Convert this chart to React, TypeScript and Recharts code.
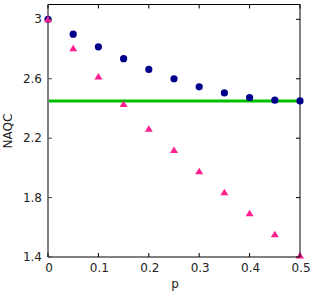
import React from "react";
import { ScatterChart, Scatter, XAxis, YAxis, ReferenceLine } from "recharts";

const pValues = [0, 0.05, 0.1, 0.15, 0.2, 0.25, 0.3, 0.35, 0.4, 0.45, 0.5];
const circleSeries = [3.0, 2.9, 2.815, 2.735, 2.663, 2.6, 2.546, 2.505, 2.474, 2.456, 2.451];
const triangleSeries = [3.0, 2.806, 2.615, 2.43, 2.264, 2.12, 1.978, 1.836, 1.695, 1.553, 1.41];
const thresholdValue = 2.45;
const xTicks = [0, 0.1, 0.2, 0.3, 0.4, 0.5];
const yTicks = [1.4, 1.8, 2.2, 2.6, 3];

const circleData = pValues.map((p, i) => ({ p, v: circleSeries[i] }));
const triangleData = pValues.map((p, i) => ({ p, v: triangleSeries[i] }));

const FONT = "'DejaVu Sans', Verdana, sans-serif";

const BottomTick = (props: any) => {
  const { x, y, payload } = props;
  return (
    <g>
      <line x1={x} y1={y} x2={x} y2={y - 4} stroke="#000" strokeWidth={1} />
      <text x={x + 1} y={y + 15} textAnchor="middle" fontSize={12} fontFamily={FONT} fill="#222">
        {payload.value}
      </text>
    </g>
  );
};

const TopTick = (props: any) => {
  const { x, y } = props;
  return <line x1={x} y1={y} x2={x} y2={y + 4} stroke="#000" strokeWidth={1} />;
};

const LeftTick = (props: any) => {
  const { x, y, payload } = props;
  return (
    <g>
      <line x1={x} y1={y} x2={x + 4} y2={y} stroke="#444" strokeWidth={1} />
      <text x={x - 6} y={y + 4} textAnchor="end" fontSize={12} fontFamily={FONT} fill="#222">
        {payload.value}
      </text>
    </g>
  );
};

const RightTick = (props: any) => {
  const { x, y } = props;
  return <line x1={x} y1={y} x2={x - 4} y2={y} stroke="#000" strokeWidth={1} />;
};

const Circle = (props: any) => <circle cx={props.cx} cy={props.cy} r={3.6} fill="#00008b" />;
const Triangle = (props: any) => {
  const { cx, cy } = props;
  const s = 4;
  return (
    <polygon
      points={`${cx - s},${cy + 3} ${cx + s},${cy + 3} ${cx},${cy - 3.5}`}
      fill="#ff1f8f"
    />
  );
};
const Nothing = () => <g />;

export default function App() {
  return (
    <div style={{ position: "absolute", left: 0, top: 0, width: 314, height: 293, background: "#fff" }}>
      <ScatterChart width={314} height={293} margin={{ top: 3.5, right: 13, left: 0, bottom: 0 }}>
        <XAxis
          xAxisId="bottom"
          type="number"
          dataKey="p"
          domain={[0, 0.5]}
          ticks={xTicks}
          height={36}
          axisLine={{ stroke: "#808080", strokeWidth: 2 }}
          tickLine={false}
          tickSize={0}
          tickMargin={0}
          tick={<BottomTick />}
          interval={0}
        />
        <XAxis
          xAxisId="top"
          orientation="top"
          type="number"
          dataKey="p"
          domain={[0, 0.5]}
          ticks={xTicks}
          height={1}
          axisLine={{ stroke: "#000", strokeWidth: 1 }}
          tickLine={false}
          tickSize={0}
          tickMargin={0}
          tick={<TopTick />}
          interval={0}
        />
        <YAxis
          yAxisId="left"
          type="number"
          dataKey="v"
          domain={[1.4, 3.1]}
          ticks={yTicks}
          width={48}
          axisLine={{ stroke: "#808080", strokeWidth: 2 }}
          tickLine={false}
          tickSize={0}
          tickMargin={0}
          tick={<LeftTick />}
          interval={0}
        />
        <YAxis
          yAxisId="right"
          orientation="right"
          type="number"
          dataKey="v"
          domain={[1.4, 3.1]}
          ticks={yTicks}
          width={1}
          axisLine={{ stroke: "#000", strokeWidth: 1 }}
          tickLine={false}
          tickSize={0}
          tickMargin={0}
          tick={<RightTick />}
          interval={0}
        />
        <Scatter
          xAxisId="top"
          yAxisId="right"
          data={circleData}
          shape={<Nothing />}
          isAnimationActive={false}
        />
        <ReferenceLine
          xAxisId="bottom"
          yAxisId="left"
          y={thresholdValue}
          stroke="#00c000"
          strokeWidth={3}
        />
        <Scatter
          xAxisId="bottom"
          yAxisId="left"
          data={circleData}
          shape={<Circle />}
          isAnimationActive={false}
        />
        <Scatter
          xAxisId="bottom"
          yAxisId="left"
          data={triangleData}
          shape={<Triangle />}
          isAnimationActive={false}
        />
        <text x={175} y={288} textAnchor="middle" fontSize={12} fontFamily={FONT} fill="#222">
          p
        </text>
        <text
          x={12}
          y={131}
          textAnchor="middle"
          fontSize={12}
          fontFamily={FONT}
          fill="#222"
          transform="rotate(-90 12 131)"
        >
          NAQC
        </text>
      </ScatterChart>
    </div>
  );
}
